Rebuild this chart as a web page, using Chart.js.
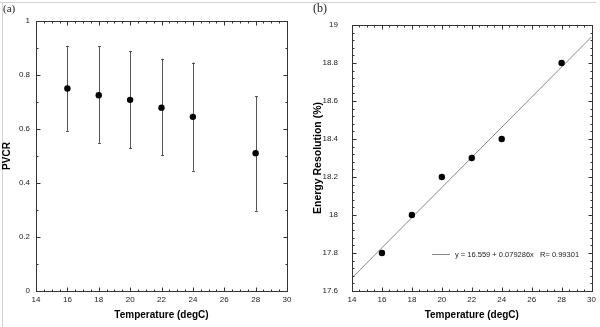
<!DOCTYPE html>
<html>
<head>
<meta charset="utf-8">
<script src="https://cdn.jsdelivr.net/npm/chart.js@4.4.1/dist/chart.umd.min.js"></script>
<style>
  body { margin: 0; background: #fff; }
  #wrap { position: relative; width: 600px; height: 327px; overflow: hidden; }
  .pane { position: absolute; top: 0; }
  .lbl { position: absolute; font-family: "Liberation Serif", "DejaVu Serif", serif; color: #222; }
  .hline { position: absolute; top: 2px; height: 0; border-top: 1px solid #d4d4d4; }
  .vline { position: absolute; left: 2px; width: 0; border-left: 1px solid #d4d4d4; }
</style>
</head>
<body>
<div id="wrap">
  <div class="hline" style="left:0;width:596px"></div>
  <div class="vline" style="top:2px;height:325px"></div>
  <div class="pane" style="left:0"><canvas id="chartA" width="300" height="327"></canvas></div>
  <div class="pane" style="left:300px"><canvas id="chartB" width="300" height="327"></canvas></div>
  <span class="lbl" style="left:3px;top:2px;font-size:11px">(a)</span>
  <span class="lbl" style="left:313px;top:1px;font-size:12px">(b)</span>
</div>
<script>
// data
const temps = [16, 18, 20, 22, 24, 28];
const pvcr = [0.75, 0.725, 0.708, 0.679, 0.645, 0.51];
const pvcrLow = [0.593, 0.549, 0.529, 0.502, 0.446, 0.297];
const pvcrHigh = [0.908, 0.906, 0.888, 0.86, 0.846, 0.722];
const energyRes = [17.8, 18.0, 18.2, 18.3, 18.4, 18.8];

// linear fit printed on panel (b)
const fitIntercept = 16.559;
const fitSlope = 0.079286;
const fitR = 0.99301;

const xTicks = [14, 16, 18, 20, 22, 24, 26, 28, 30];
const yTicksA = [0, 0.2, 0.4, 0.6, 0.8, 1];
const yTicksB = [17.6, 17.8, 18, 18.2, 18.4, 18.6, 18.8, 19];

Chart.defaults.font.family = '"Liberation Sans", Arial, sans-serif';
Chart.defaults.color = '#222';

const setTicks = list => scale => { scale.ticks = list.map(v => ({ value: v })); };
const fmt = v => String(parseFloat(Number(v).toFixed(2)));

// box frame with inward ticks on all four sides
function framePlugin(xMinor, yMinor) {
  return {
    id: 'frame',
    afterDraw(chart) {
      const { ctx, chartArea: a, scales: { x, y } } = chart;
      ctx.save();
      ctx.strokeStyle = '#333';
      ctx.lineWidth = 1;
      const L = Math.round(a.left) + 0.5, R = Math.round(a.right) + 0.5;
      const T = Math.round(a.top) + 0.5, B = Math.round(a.bottom) + 0.5;
      ctx.strokeRect(L, T, R - L, B - T);
      ctx.beginPath();
      let n = Math.round((x.max - x.min) / xMinor);
      for (let i = 0; i <= n; i++) {
        const v = x.min + i * xMinor;
        const major = x.ticks.some(t => Math.abs(t.value - v) < 1e-6);
        const len = major ? 4 : 2;
        const px = Math.round(x.getPixelForValue(v)) + 0.5;
        ctx.moveTo(px, B); ctx.lineTo(px, B - len);
        ctx.moveTo(px, T); ctx.lineTo(px, T + len);
      }
      n = Math.round((y.max - y.min) / yMinor);
      for (let i = 0; i <= n; i++) {
        const v = y.min + i * yMinor;
        const major = y.ticks.some(t => Math.abs(t.value - v) < 1e-6);
        const len = major ? 4 : 2;
        const py = Math.round(y.getPixelForValue(v)) + 0.5;
        ctx.moveTo(L, py); ctx.lineTo(L + len, py);
        ctx.moveTo(R, py); ctx.lineTo(R - len, py);
      }
      ctx.stroke();
      ctx.restore();
    }
  };
}

const errorBars = {
  id: 'errorBars',
  beforeDatasetsDraw(chart) {
    const { ctx, scales: { x, y } } = chart;
    ctx.save();
    ctx.strokeStyle = '#555';
    ctx.lineWidth = 1;
    ctx.beginPath();
    temps.forEach((t, i) => {
      const px = Math.round(x.getPixelForValue(t)) + 0.5;
      const y1 = y.getPixelForValue(pvcrHigh[i]);
      const y2 = y.getPixelForValue(pvcrLow[i]);
      ctx.moveTo(px, y1); ctx.lineTo(px, y2);
      ctx.moveTo(px - 1.5, Math.round(y1) + 0.5); ctx.lineTo(px + 1.5, Math.round(y1) + 0.5);
      ctx.moveTo(px - 1.5, Math.round(y2) + 0.5); ctx.lineTo(px + 1.5, Math.round(y2) + 0.5);
    });
    ctx.stroke();
    ctx.restore();
  }
};

const fitLegend = {
  id: 'fitLegend',
  afterDraw(chart) {
    const { ctx } = chart;
    ctx.save();
    ctx.strokeStyle = '#888';
    ctx.lineWidth = 1;
    ctx.beginPath();
    ctx.moveTo(132, 254.5); ctx.lineTo(150, 254.5);
    ctx.stroke();
    ctx.fillStyle = '#222';
    ctx.font = '7.5px "Liberation Sans", Arial, sans-serif';
    ctx.textBaseline = 'middle';
    ctx.fillText('y = ' + fitIntercept + ' + ' + fitSlope + 'x   R= ' + fitR, 155, 254.5);
    ctx.restore();
  }
};

function axisX() {
  return {
    type: 'linear', min: 14, max: 30,
    afterBuildTicks: setTicks(xTicks),
    afterFit: s => { s.height = 36; },
    grid: { display: false, drawTicks: false },
    border: { display: false },
    ticks: { autoSkip: false, maxRotation: 0, padding: 4, font: { size: 8 }, callback: fmt },
    title: { display: true, text: 'Temperature (degC)', color: '#000',
             font: { size: 10, weight: 'bold' }, padding: { top: 0, bottom: 6 } }
  };
}

new Chart(document.getElementById('chartA'), {
  type: 'scatter',
  data: {
    datasets: [{
      data: temps.map((t, i) => ({ x: t, y: pvcr[i] })),
      pointRadius: 3.2, backgroundColor: '#000', borderWidth: 0
    }]
  },
  options: {
    responsive: false, animation: false, devicePixelRatio: 1,
    layout: { padding: { left: 0, right: 13, top: 21, bottom: 0 } },
    plugins: { legend: { display: false }, tooltip: { enabled: false } },
    scales: {
      x: axisX(),
      y: {
        type: 'linear', min: 0, max: 1,
        afterBuildTicks: setTicks(yTicksA),
        afterFit: s => { s.width = 36; },
        grid: { display: false, drawTicks: false },
        border: { display: false },
        ticks: { autoSkip: false, padding: 6, font: { size: 8 }, callback: fmt },
        title: { display: true, text: 'PVCR', color: '#000',
                 font: { size: 10, weight: 'bold' }, padding: { top: 1, bottom: 0 } }
      }
    }
  },
  plugins: [errorBars, framePlugin(0.5, 0.1)]
});

new Chart(document.getElementById('chartB'), {
  type: 'scatter',
  data: {
    datasets: [{
      data: temps.map((t, i) => ({ x: t, y: energyRes[i] })),
      pointRadius: 3.2, backgroundColor: '#000', borderWidth: 0
    }, {
      data: [14, 30].map(t => ({ x: t, y: fitIntercept + fitSlope * t })),
      showLine: true, pointRadius: 0, borderColor: '#888', borderWidth: 1
    }]
  },
  options: {
    responsive: false, animation: false, devicePixelRatio: 1,
    layout: { padding: { left: 0, right: 7, top: 25, bottom: 0 } },
    plugins: { legend: { display: false }, tooltip: { enabled: false } },
    scales: {
      x: axisX(),
      y: {
        type: 'linear', min: 17.6, max: 19,
        afterBuildTicks: setTicks(yTicksB),
        afterFit: s => { s.width = 52; },
        grid: { display: false, drawTicks: false },
        border: { display: false },
        ticks: { autoSkip: false, padding: 14, font: { size: 8 }, callback: fmt },
        title: { display: true, text: 'Energy Resolution (%)', color: '#000',
                 font: { size: 10.5, weight: 'bold' }, padding: { top: 12, bottom: 0 } }
      }
    }
  },
  plugins: [framePlugin(0.5, 0.04), fitLegend]
});
</script>
</body>
</html>
